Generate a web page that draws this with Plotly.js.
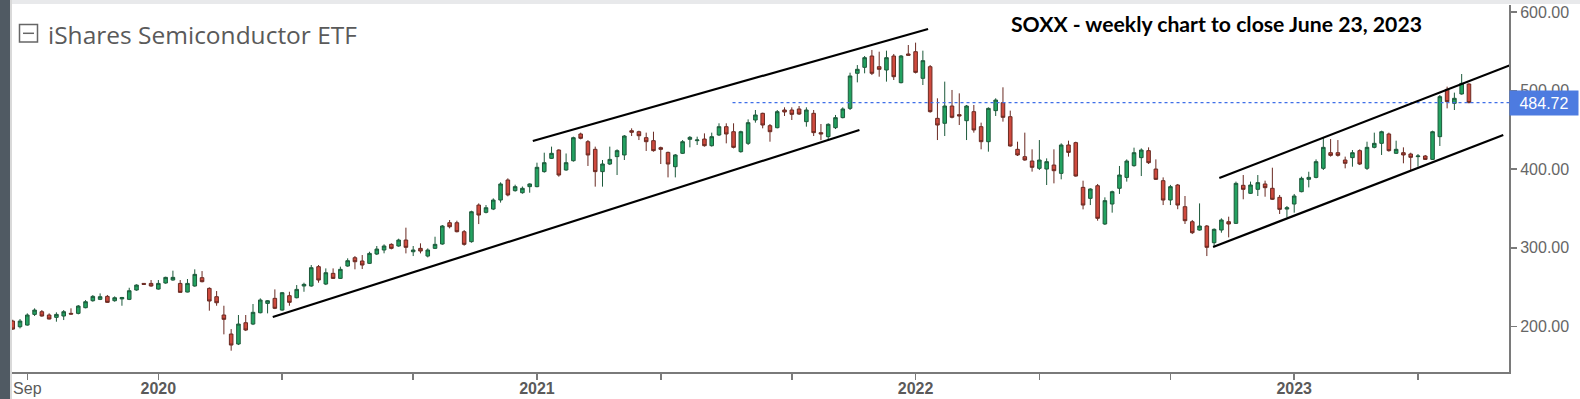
<!DOCTYPE html>
<html>
<head>
<meta charset="utf-8">
<script src="https://cdn.plot.ly/plotly-3.0.1.min.js"></script>
<style>
  html, body { margin: 0; padding: 0; background: #ffffff; }
  #chart { width: 1580px; height: 399px; }
</style>
</head>
<body>
<div id="chart"></div>
<script>
// Weekly candles (week starting Monday), SOXX, Aug 2019 - Jun 23 2023
const weeks = [
 '2019-08-19','2019-08-26','2019-09-02','2019-09-09','2019-09-16','2019-09-23','2019-09-30','2019-10-07','2019-10-14','2019-10-21',
 '2019-10-28','2019-11-04','2019-11-11','2019-11-18','2019-11-25','2019-12-02','2019-12-09','2019-12-16','2019-12-23','2019-12-30',
 '2020-01-06','2020-01-13','2020-01-20','2020-01-27','2020-02-03','2020-02-10','2020-02-17','2020-02-24','2020-03-02','2020-03-09',
 '2020-03-16','2020-03-23','2020-03-30','2020-04-06','2020-04-13','2020-04-20','2020-04-27','2020-05-04','2020-05-11','2020-05-18',
 '2020-05-25','2020-06-01','2020-06-08','2020-06-15','2020-06-22','2020-06-29','2020-07-06','2020-07-13','2020-07-20','2020-07-27',
 '2020-08-03','2020-08-10','2020-08-17','2020-08-24','2020-08-31','2020-09-07','2020-09-14','2020-09-21','2020-09-28','2020-10-05',
 '2020-10-12','2020-10-19','2020-10-26','2020-11-02','2020-11-09','2020-11-16','2020-11-23','2020-11-30','2020-12-07','2020-12-14',
 '2020-12-21','2020-12-28','2021-01-04','2021-01-11','2021-01-18','2021-01-25','2021-02-01','2021-02-08','2021-02-15','2021-02-22',
 '2021-03-01','2021-03-08','2021-03-15','2021-03-22','2021-03-29','2021-04-05','2021-04-12','2021-04-19','2021-04-26','2021-05-03',
 '2021-05-10','2021-05-17','2021-05-24','2021-05-31','2021-06-07','2021-06-14','2021-06-21','2021-06-28','2021-07-05','2021-07-12',
 '2021-07-19','2021-07-26','2021-08-02','2021-08-09','2021-08-16','2021-08-23','2021-08-30','2021-09-06','2021-09-13','2021-09-20',
 '2021-09-27','2021-10-04','2021-10-11','2021-10-18','2021-10-25','2021-11-01','2021-11-08','2021-11-15','2021-11-22','2021-11-29',
 '2021-12-06','2021-12-13','2021-12-20','2021-12-27','2022-01-03','2022-01-10','2022-01-17','2022-01-24','2022-01-31','2022-02-07',
 '2022-02-14','2022-02-21','2022-02-28','2022-03-07','2022-03-14','2022-03-21','2022-03-28','2022-04-04','2022-04-11','2022-04-18',
 '2022-04-25','2022-05-02','2022-05-09','2022-05-16','2022-05-23','2022-05-30','2022-06-06','2022-06-13','2022-06-20','2022-06-27',
 '2022-07-04','2022-07-11','2022-07-18','2022-07-25','2022-08-01','2022-08-08','2022-08-15','2022-08-22','2022-08-29','2022-09-05',
 '2022-09-12','2022-09-19','2022-09-26','2022-10-03','2022-10-10','2022-10-17','2022-10-24','2022-10-31','2022-11-07','2022-11-14',
 '2022-11-21','2022-11-28','2022-12-05','2022-12-12','2022-12-19','2022-12-26','2023-01-02','2023-01-09','2023-01-16','2023-01-23',
 '2023-01-30','2023-02-06','2023-02-13','2023-02-20','2023-02-27','2023-03-06','2023-03-13','2023-03-20','2023-03-27','2023-04-03',
 '2023-04-10','2023-04-17','2023-04-24','2023-05-01','2023-05-08','2023-05-15','2023-05-22','2023-05-29','2023-06-05','2023-06-12',
 '2023-06-19'
];

const openP = [
 206.8,199.6,201.7,215.3,218.7,214.5,211.5,213.2,216.6,216.6,
 223.8,232.7,234.4,238.2,232.7,235.0,234.4,246.3,254.7,254.7,
 247.5,255.2,259.0,254.7,243.7,251.4,262.0,248.4,237.8,214.5,
 190.3,177.6,204.7,203.0,217.4,229.3,235.7,220.8,239.1,236.5,
 251.4,251.4,276.0,253.9,267.5,261.1,276.8,287.4,283.2,280.2,
 292.1,297.2,304.4,302.3,309.9,295.0,299.3,289.5,299.3,304.8,
 331.9,331.9,320.5,307.8,354.4,345.1,349.3,360.8,386.3,372.7,
 370.1,377.8,377.8,396.9,413.8,424.4,399.0,410.8,444.8,435.0,
 425.3,396.9,406.6,416.0,418.1,449.0,447.7,440.1,436.3,427.4,
 421.4,403.2,420.2,438.0,436.3,438.4,429.9,443.5,454.1,447.7,
 422.3,432.9,462.6,471.1,455.4,452.8,475.3,475.3,476.6,460.5,
 471.1,446.5,441.4,452.8,465.6,477.4,522.0,529.6,544.0,530.4,
 526.2,544.0,510.1,546.6,549.5,515.6,530.4,464.7,458.4,480.4,
 469.4,461.7,473.2,454.1,435.0,474.5,484.6,466.8,425.3,415.9,
 410.4,401.1,400.2,405.3,394.7,430.8,433.8,376.9,362.9,379.0,
 330.3,355.7,375.7,389.6,404.5,414.7,423.6,400.2,385.4,360.8,
 379.9,352.3,333.2,322.6,327.7,306.5,322.6,333.2,331.1,379.5,
 369.3,374.4,381.2,375.7,364.2,349.3,355.7,371.4,387.1,389.6,
 401.1,421.0,421.0,411.7,414.7,423.6,401.1,427.8,432.9,444.8,
 420.2,421.0,419.3,416.0,416.8,412.5,441.4,501.6,483.8,495.7,
 508.4
];
const highP = [
 208.5,209.4,216.6,223.0,220.8,216.6,217.9,220.8,223.0,227.2,
 233.5,239.9,242.0,240.0,238.2,237.5,249.2,253.5,255.2,259.0,
 259.0,263.2,270.9,259.0,260.3,272.6,270.4,249.7,245.0,226.3,
 196.6,214.5,214.5,228.5,235.7,233.5,247.1,243.8,244.1,252.6,
 255.6,278.1,278.1,273.8,273.8,276.0,286.6,289.5,290.8,295.0,
 302.3,304.4,305.7,311.6,325.6,302.3,305.7,299.3,314.1,329.0,
 335.3,334.5,322.6,347.2,356.5,354.4,362.9,383.3,388.4,380.3,
 378.0,382.0,408.3,421.0,428.7,425.3,420.0,441.4,446.5,437.1,
 428.7,411.7,428.7,425.3,443.5,452.0,449.0,446.5,447.7,428.7,
 422.3,419.3,437.1,442.2,441.4,445.6,446.5,458.4,458.4,458.4,
 449.0,463.4,475.3,471.9,457.5,475.3,478.7,478.7,480.4,478.7,
 475.3,457.5,458.4,469.0,478.7,522.8,532.5,544.0,551.7,549.5,
 550.8,546.6,545.3,558.0,561.0,550.8,532.5,490.2,511.4,500.8,
 496.5,481.7,481.7,459.2,478.7,490.2,504.2,474.5,435.0,446.5,
 425.3,437.1,413.8,425.3,432.9,436.3,435.0,385.4,375.7,381.2,
 364.2,372.7,404.1,412.5,427.4,426.5,427.8,412.5,389.6,380.0,
 381.2,365.9,335.4,356.5,329.0,324.7,337.5,339.6,384.2,392.6,
 384.2,392.6,385.4,401.9,367.2,353.2,368.5,390.5,396.8,412.5,
 440.5,438.4,437.1,416.0,424.4,425.3,435.0,446.5,449.0,446.5,
 436.3,427.8,421.0,419.3,418.1,449.0,494.4,505.0,497.4,521.1,
 509.2
];
const lowP = [
 195.5,197.5,200.9,213.2,212.4,208.9,206.0,208.1,215.0,215.3,
 223.0,231.4,233.5,230.1,231.4,226.3,233.5,245.4,253.0,250.5,
 246.7,254.3,258.1,242.9,243.3,250.5,256.0,220.0,226.3,189.9,
 169.1,176.3,194.1,201.7,216.6,216.6,222.0,220.0,226.3,235.7,
 244.1,250.5,255.6,252.6,260.3,260.3,275.9,272.6,273.0,279.4,
 290.8,293.0,298.0,301.4,292.9,289.5,292.9,287.8,298.4,303.9,
 324.7,319.6,302.7,306.5,330.2,343.8,348.0,357.5,365.5,371.4,
 368.8,370.1,377.0,395.6,413.0,390.5,398.0,409.6,438.0,404.1,
 377.8,377.8,405.3,392.6,411.7,442.2,437.1,423.2,422.3,406.6,
 389.6,389.6,419.3,427.8,430.8,428.7,428.7,442.2,432.9,426.5,
 421.0,430.8,459.2,452.0,435.0,452.0,467.7,462.6,469.0,454.1,
 442.2,437.0,438.0,451.1,464.7,475.3,510.5,522.0,519.8,517.7,
 511.4,513.5,509.2,545.0,521.8,507.1,471.9,437.1,442.2,464.7,
 456.2,437.1,446.5,425.3,422.3,467.7,460.5,428.7,416.8,410.8,
 396.9,399.0,379.9,382.0,387.1,416.0,390.5,348.9,354.4,334.5,
 329.0,344.7,368.5,384.2,403.2,391.3,406.6,386.3,354.4,354.4,
 349.1,330.3,317.5,321.8,289.5,301.4,319.2,313.3,330.3,361.7,
 368.5,365.9,365.0,360.8,343.0,338.8,344.7,370.6,376.9,388.4,
 399.0,416.0,416.0,401.1,403.2,405.3,399.0,426.5,418.1,422.3,
 419.3,407.5,399.0,403.2,411.7,411.7,429.5,477.4,475.3,494.8,
 483.8
];
const closeP = [
 196.6,206.8,214.5,220.8,213.2,209.4,215.3,218.7,215.7,225.9,
 231.4,238.2,237.8,230.6,236.5,236.8,245.4,252.6,253.5,251.4,
 254.7,262.4,262.4,243.3,254.7,266.2,256.9,232.3,230.1,209.0,
 176.3,203.0,195.4,217.9,233.6,232.7,223.0,242.9,230.6,247.1,
 253.5,274.7,259.0,268.3,261.1,272.6,283.6,282.3,278.1,292.9,
 298.4,302.3,299.3,309.9,300.6,297.2,295.9,297.2,304.4,327.7,
 326.8,320.5,304.4,345.9,341.7,351.0,360.8,381.2,367.2,377.8,
 375.7,381.2,402.4,408.3,420.2,392.6,408.3,440.1,439.3,418.1,
 396.9,406.6,412.5,423.6,442.2,447.0,442.6,435.0,423.6,425.3,
 406.6,418.1,435.0,440.5,437.2,429.9,441.4,454.1,444.8,427.8,
 447.7,459.2,469.0,456.2,447.7,473.2,472.8,469.8,470.2,475.3,
 446.5,444.8,457.1,465.6,476.6,518.6,527.1,541.9,522.0,527.1,
 541.9,517.7,544.0,544.9,523.2,538.1,473.2,456.2,480.4,466.0,
 467.7,480.4,449.9,435.0,477.4,488.0,466.0,429.5,418.1,411.7,
 402.4,411.7,409.6,398.1,430.8,421.4,391.3,354.4,374.8,337.5,
 360.0,371.4,392.6,410.4,421.0,424.4,408.3,387.1,360.8,377.8,
 354.4,334.5,319.2,327.7,300.6,323.5,335.4,330.3,382.0,374.4,
 379.9,382.9,376.5,361.7,348.9,351.0,365.9,388.4,389.6,409.6,
 427.8,417.6,417.6,407.5,421.0,406.6,427.8,432.9,447.7,423.6,
 425.3,418.1,415.1,416.8,412.5,447.7,492.3,485.9,490.2,509.2,
 484.72
];

// Axis ticks: first weekly candle of the month
const tickDates = ['2019-09-02','2020-01-06','2020-05-04','2020-09-07','2021-01-04','2021-05-03',
                   '2021-09-06','2022-01-03','2022-05-02','2022-09-05','2023-01-02','2023-05-01'];
const tickLabels = ['Sep','<b>2020</b>','','','<b>2021</b>','','','<b>2022</b>','','','<b>2023</b>',''];
const priceTicks = [200, 300, 400, 500, 600];

// Hand-drawn trend channels (date, price)
const chanA_lowX = ['2020-04-25','2021-11-10'], chanA_lowY = [211.9, 449.9];
const chanA_upX  = ['2020-12-31','2022-01-15'], chanA_upY  = [435.9, 578.4];
const chanB_lowX = ['2022-10-16','2023-07-22'], chanB_lowY = [301.0, 443.5];
const chanB_upX  = ['2022-10-22','2023-08-03'], chanB_upY  = [388.8, 535.1];

// Last price marker
const lastPrice = 484.72;
const lastLineX = ['2021-07-11', '2023-07-27 12:00'];

const xRange = ['2019-08-18 07:00', '2023-07-27 12:00'];
const yRange = [142.0, 608.9];

const traces = [
  {
    type: 'candlestick', x: weeks, open: openP, high: highP, low: lowP, close: closeP,
    increasing: { fillcolor: '#23a261', line: { color: '#1d5a3b', width: 1 } },
    decreasing: { fillcolor: '#cf4a3e', line: { color: '#6a2a22', width: 1 } },
    whiskerwidth: 0, hoverinfo: 'skip', showlegend: false
  },
  { type: 'scatter', mode: 'lines', x: lastLineX, y: [lastPrice, lastPrice],
    line: { color: '#3f6fe8', width: 1.2, dash: 'dot' }, hoverinfo: 'skip', showlegend: false },
  { type: 'scatter', mode: 'lines', x: chanA_lowX, y: chanA_lowY, line: { color: '#000', width: 2.2 }, hoverinfo: 'skip', showlegend: false },
  { type: 'scatter', mode: 'lines', x: chanA_upX,  y: chanA_upY,  line: { color: '#000', width: 2.2 }, hoverinfo: 'skip', showlegend: false },
  { type: 'scatter', mode: 'lines', x: chanB_lowX, y: chanB_lowY, line: { color: '#000', width: 2.2 }, hoverinfo: 'skip', showlegend: false },
  { type: 'scatter', mode: 'lines', x: chanB_upX,  y: chanB_upY,  line: { color: '#000', width: 2.2 }, hoverinfo: 'skip', showlegend: false }
];

// pixel -> paper helpers for decorations (plot area x 12..1509, y 5..372)
const L = 12, R = 1509, T = 5, B = 372;
const px = v => (v - L) / (R - L);
const py = v => (B - v) / (B - T);

const layout = {
  width: 1580, height: 399,
  margin: { l: L, r: 1580 - R, t: T, b: 399 - B, pad: 0 },
  paper_bgcolor: '#ffffff', plot_bgcolor: '#ffffff',
  showlegend: false,
  font: { family: '"Liberation Sans", Arial, sans-serif', color: '#606060', size: 16 },
  xaxis: {
    type: 'date', range: xRange, rangeslider: { visible: false },
    tickmode: 'array', tickvals: tickDates, ticktext: tickLabels,
    ticks: 'outside', ticklen: 6, tickwidth: 1.5, tickcolor: '#7a7a7a',
    ticklabelstandoff: -5,
    showline: true, linecolor: '#7a7a7a', linewidth: 2,
    showgrid: false, zeroline: false, fixedrange: true,
    tickfont: { size: 16, color: '#5a5a5a' }
  },
  yaxis: {
    side: 'right', range: yRange,
    tickmode: 'array', tickvals: priceTicks, tickformat: '.2f',
    ticks: 'outside', ticklen: 6, tickwidth: 1.5, tickcolor: '#7a7a7a',
    showline: true, linecolor: '#7a7a7a', linewidth: 2,
    showgrid: false, zeroline: false, fixedrange: true,
    tickfont: { size: 16, color: '#666666' }
  },
  shapes: [
    // screenshot frame: top band and left strip
    { type: 'rect', xref: 'paper', yref: 'paper', x0: px(0), x1: px(1580), y0: py(4), y1: py(0),
      fillcolor: '#e8e9eb', line: { width: 0 }, layer: 'below' },
    { type: 'rect', xref: 'paper', yref: 'paper', x0: px(0), x1: px(10), y0: py(399), y1: py(0),
      fillcolor: '#505a63', line: { width: 0 } },
    { type: 'rect', xref: 'paper', yref: 'paper', x0: px(10), x1: px(12), y0: py(399), y1: py(0),
      fillcolor: '#d9d9d9', line: { width: 0 } },
    // collapse icon
    { type: 'rect', xref: 'paper', yref: 'paper', x0: px(19.5), x1: px(37.5), y0: py(42), y1: py(24.5),
      fillcolor: 'rgba(0,0,0,0)', line: { color: '#666666', width: 1.5 } },
    { type: 'line', xref: 'paper', yref: 'paper', x0: px(23), x1: px(34), y0: py(33.3), y1: py(33.3),
      line: { color: '#666666', width: 1.5 } }
  ],
  annotations: [
    { xref: 'paper', yref: 'paper', x: px(46), y: py(34.5), xanchor: 'left', yanchor: 'middle',
      text: 'iShares Semiconductor ETF', showarrow: false,
      font: { family: '"Open Sans", "Noto Sans", sans-serif', size: 24.5, color: '#5a5a5a' } },
    { xref: 'paper', yref: 'paper', x: px(1009), y: py(24), xanchor: 'left', yanchor: 'middle',
      text: '<b>SOXX - weekly chart to close June 23, 2023</b>', showarrow: false,
      font: { family: 'Lato, "Open Sans", sans-serif', size: 21.2, color: '#000000' } },
    { xref: 'paper', yref: 'y', x: 1, y: lastPrice, xanchor: 'left', yanchor: 'middle',
      text: lastPrice.toFixed(2), showarrow: false, bgcolor: '#4d7be0',
      width: 62, height: 18, borderpad: 3, align: 'center',
      font: { family: '"Liberation Sans", Arial, sans-serif', size: 16, color: '#ffffff' } }
  ]
};

Plotly.newPlot('chart', traces, layout, { displayModeBar: false, staticPlot: true });
</script>
</body>
</html>
